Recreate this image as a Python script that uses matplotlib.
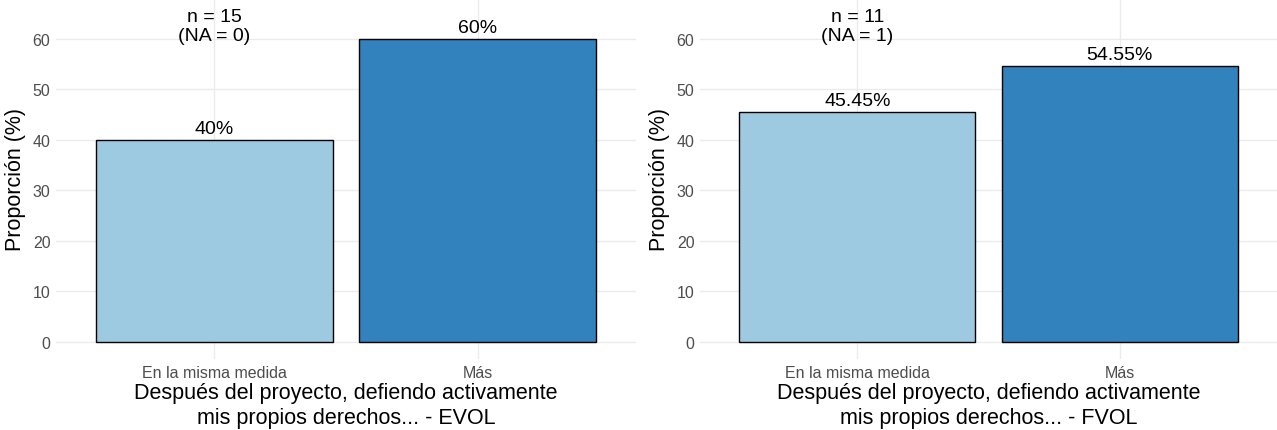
import matplotlib.pyplot as plt

plt.rcParams['font.family'] = ['Liberation Sans', 'DejaVu Sans']

categories = ["En la misma medida", "Más"]
evol_values = [40, 60]
fvol_values = [45.45, 54.55]
evol_labels = ["40%", "60%"]
fvol_labels = ["45.45%", "54.55%"]
panel_titles = ["Después del proyecto, defiendo activamente\nmis propios derechos... - EVOL",
                "Después del proyecto, defiendo activamente\nmis propios derechos... - FVOL"]
n_labels = ["n = 15\n(NA = 0)", "n = 11\n(NA = 1)"]
y_ticks = [0, 10, 20, 30, 40, 50, 60]

colors = ["#9ecae1", "#3182bd"]
W, H = 1277, 431


def draw_panel(ax, values, labels, xlabel, nlab):
    xs = list(range(1, len(categories) + 1))
    ax.bar(xs, values, width=0.9, color=colors, edgecolor="black", linewidth=1, zorder=3)
    for x, v, lab in zip(xs, values, labels):
        ax.text(x, v + 0.6, lab, ha="center", va="bottom", fontsize=14, zorder=4)
    ax.text(1, 62.5, nlab, ha="center", va="center", fontsize=14, linespacing=1.15, zorder=4)
    ax.set_xlim(0.4, 2.6)
    ax.set_ylim(-3.37, 67.9)
    ax.set_xticks(xs)
    ax.set_xticklabels(categories, fontsize=11.5, color="#4d4d4d")
    ax.set_yticks(y_ticks)
    ax.set_yticklabels([str(t) for t in y_ticks], fontsize=11.5, color="#4d4d4d")
    ax.tick_params(length=0, pad=4)
    ax.grid(True, color="#ebebeb", linewidth=1, zorder=0)
    for s in ax.spines.values():
        s.set_visible(False)
    ax.set_ylabel("Proporción (%)", fontsize=15.5, labelpad=5)
    ax.set_xlabel(xlabel, fontsize=15.5, labelpad=2, linespacing=1.2)


fig = plt.figure(figsize=(W / 100, H / 100), dpi=100)
ax1 = fig.add_axes([56 / W, (H - 360) / H, 580 / W, 360 / H])
ax2 = fig.add_axes([700 / W, (H - 360) / H, 577 / W, 360 / H])

draw_panel(ax1, evol_values, evol_labels, panel_titles[0], n_labels[0])
draw_panel(ax2, fvol_values, fvol_labels, panel_titles[1], n_labels[1])

fig.savefig("out.png", dpi=100, facecolor="white")
